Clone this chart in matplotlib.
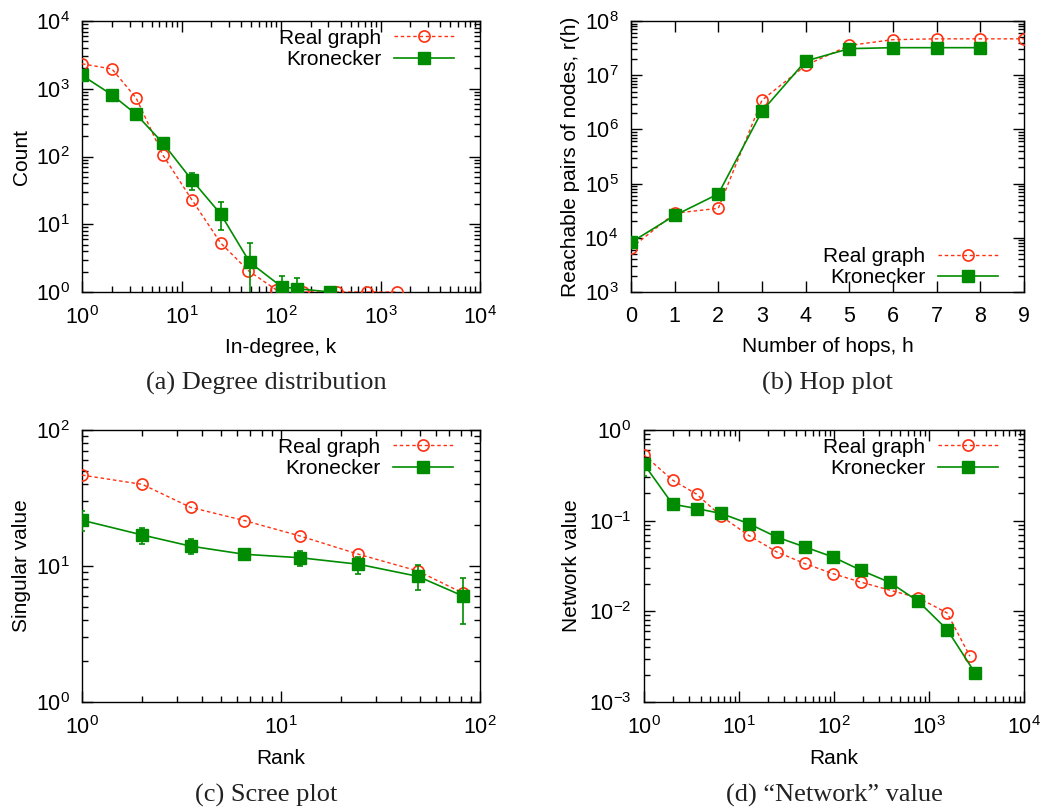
import numpy as np
import matplotlib
matplotlib.use('Agg')
import matplotlib.pyplot as plt
from matplotlib.lines import Line2D
from matplotlib.ticker import LogLocator, NullLocator, FixedLocator

plt.rcParams['font.family'] = ['Liberation Sans', 'DejaVu Sans']
plt.rcParams['mathtext.fontset'] = 'custom'
plt.rcParams['mathtext.rm'] = 'Liberation Sans'
plt.rcParams['font.size'] = 15

RED = '#ff3010'
GREEN = '#008c00'

# (a) degree distribution
deg_real_x = [1, 2, 3.5, 6.5, 12.7, 24.7, 47, 89, 168, 363, 725, 1450]
deg_real_y = [2340, 1960, 730, 105, 23, 5.3, 2.06, 1.08, 1.0, 1.0, 1.0, 1.0]
deg_kron_x = [1, 2, 3.5, 6.5, 12.7, 24.7, 48.6, 101.6, 144, 311]
deg_kron_y = [1580, 815, 420, 158, 45, 14.2, 2.73, 1.19, 1.12, 1.0]
deg_kron_lo = [1580, 815, 420, 158, 32, 8.2, 0.5, 1.0, 1.0, 1.0]
deg_kron_hi = [1580, 815, 420, 158, 57, 21, 5.2, 1.74, 1.6, 1.0]

# (b) hop plot
hop_real_x = [0, 1, 2, 3, 4, 5, 6, 7, 8, 9]
hop_real_y = [6450, 28400, 35000, 3.47e6, 1.52e7, 3.56e7, 4.54e7, 4.7e7, 4.7e7, 4.7e7]
hop_kron_x = [0, 1, 2, 3, 4, 5, 6, 7, 8]
hop_kron_y = [8200, 25800, 64500, 2.17e6, 1.83e7, 3.1e7, 3.23e7, 3.23e7, 3.23e7]
hop_kron_lo = [8200, 25800, 64500, 2.17e6, 1.83e7, 2.5e7, 2.6e7, 2.6e7, 2.7e7]
hop_kron_hi = [8200, 25800, 64500, 2.17e6, 1.83e7, 3.7e7, 3.8e7, 3.8e7, 3.8e7]

# (c) scree plot
scree_x = [1, 2.01, 3.51, 6.53, 12.5, 24.5, 48.6, 82.5]
scree_real = [46.6, 39.8, 27, 21.6, 16.6, 12.2, 9.2, 6.3]
scree_kron = [21.7, 16.9, 14.0, 12.2, 11.5, 10.3, 8.4, 6.0]
scree_kron_lo = [18.2, 14.6, 12.2, 11.2, 10.0, 8.7, 6.7, 3.73]
scree_kron_hi = [25.3, 18.9, 15.7, 13.2, 12.9, 11.7, 10.1, 8.2]

# (d) network value
net_real_x = [1, 2.0, 3.58, 6.5, 12.6, 24.9, 49, 96.8, 192, 389, 772, 1552, 2700]
net_real_y = [0.53, 0.28, 0.196, 0.112, 0.069, 0.0453, 0.0337, 0.0261, 0.021,
              0.0171, 0.0141, 0.0096, 0.0032]
net_kron_x = [1, 2.0, 3.58, 6.5, 12.6, 24.9, 49, 96.8, 192, 389, 772, 1552, 3050]
net_kron_y = [0.42, 0.152, 0.136, 0.12, 0.093, 0.066, 0.0514, 0.0399, 0.0284,
              0.0208, 0.0129, 0.0063, 0.0021]
net_kron_lo = [0.31, 0.13, 0.136, 0.12, 0.093, 0.066, 0.0514, 0.0399, 0.0284,
               0.0208, 0.0129, 0.0063, 0.0021]
net_kron_hi = [0.48, 0.168, 0.136, 0.12, 0.093, 0.066, 0.0514, 0.0399, 0.0284,
               0.0208, 0.0129, 0.0063, 0.0021]


def draw(ax, rx, ry, kx, ky, klo, khi, legend_loc, anchor):
    real_style = dict(color=RED, linestyle=(0, (2.5, 2)), linewidth=1.0,
                      marker='o', markersize=8, markerfacecolor='none',
                      markeredgecolor=RED, markeredgewidth=1.2)
    kron_style = dict(color=GREEN, linewidth=1.2, marker='s', markersize=8,
                      markerfacecolor=GREEN, markeredgecolor=GREEN)
    ax.plot(rx, ry, zorder=3, **real_style)
    ky = np.array(ky)
    yerr = [ky - np.array(klo), np.array(khi) - ky]
    ax.errorbar(kx, ky, yerr=yerr, elinewidth=1.2, capsize=2.5,
                capthick=1.2, zorder=4, **kron_style)
    # legend samples without the error bars
    handles = [Line2D([], [], **real_style), Line2D([], [], **kron_style)]
    ax.legend(handles, ['Real graph', 'Kronecker'], loc=legend_loc,
              bbox_to_anchor=anchor, frameon=False, markerfirst=False,
              handlelength=2.9, handletextpad=0.6, labelspacing=0.12,
              borderaxespad=0, borderpad=0, fontsize=15)
    ax.tick_params(which='both', direction='in', top=True, right=True,
                   width=1.0, labelsize=15.5)
    ax.tick_params(which='major', length=8)
    ax.tick_params(axis='x', which='major', pad=10)
    ax.tick_params(axis='y', which='major', pad=9)
    ax.tick_params(which='minor', length=4)
    for s in ax.spines.values():
        s.set_linewidth(1.0)


def log_ticks(axis):
    axis.set_major_locator(LogLocator(base=10, numticks=20))
    axis.set_minor_locator(LogLocator(base=10, subs=np.arange(2, 10),
                                      numticks=100))


fig = plt.figure(figsize=(10.49, 8.11), dpi=100)

ax_a = fig.add_axes([0.0782, 0.640, 0.3794, 0.334])
ax_b = fig.add_axes([0.6015, 0.640, 0.3746, 0.334])
ax_c = fig.add_axes([0.0782, 0.1344, 0.3794, 0.3354])
ax_d = fig.add_axes([0.6139, 0.1344, 0.3622, 0.3354])

# (a)
draw(ax_a, deg_real_x, deg_real_y, deg_kron_x, deg_kron_y,
     deg_kron_lo, deg_kron_hi, 'upper right', (0.935, 0.972))
ax_a.set_xscale('log')
ax_a.set_yscale('log')
ax_a.set_xlim(1, 1e4)
ax_a.set_ylim(1, 1e4)
log_ticks(ax_a.xaxis)
log_ticks(ax_a.yaxis)
ax_a.set_xlabel('In-degree, k', labelpad=7)
ax_a.set_ylabel('Count', labelpad=3)

# (b)
draw(ax_b, hop_real_x, hop_real_y, hop_kron_x, hop_kron_y,
     hop_kron_lo, hop_kron_hi, 'lower right', (0.934, 0.017))
ax_b.set_yscale('log')
ax_b.set_xlim(0, 9)
ax_b.set_ylim(1e3, 1e8)
ax_b.xaxis.set_major_locator(FixedLocator(range(10)))
ax_b.xaxis.set_minor_locator(NullLocator())
log_ticks(ax_b.yaxis)
ax_b.set_xlabel('Number of hops, h', labelpad=7)
ax_b.set_ylabel('Reachable pairs of nodes, r(h)', labelpad=3)

# (c)
draw(ax_c, scree_x, scree_real, scree_x, scree_kron,
     scree_kron_lo, scree_kron_hi, 'upper right', (0.932, 0.972))
ax_c.set_xscale('log')
ax_c.set_yscale('log')
ax_c.set_xlim(1, 100)
ax_c.set_ylim(1, 100)
log_ticks(ax_c.xaxis)
log_ticks(ax_c.yaxis)
ax_c.set_xlabel('Rank', labelpad=7)
ax_c.set_ylabel('Singular value', labelpad=3)

# (d)
draw(ax_d, net_real_x, net_real_y, net_kron_x, net_kron_y,
     net_kron_lo, net_kron_hi, 'upper right', (0.932, 0.972))
ax_d.set_xscale('log')
ax_d.set_yscale('log')
ax_d.set_xlim(1, 1e4)
ax_d.set_ylim(1e-3, 1)
log_ticks(ax_d.xaxis)
log_ticks(ax_d.yaxis)
ax_d.set_xlabel('Rank', labelpad=7)
ax_d.set_ylabel('Network value', labelpad=6)

cap = dict(ha='center', va='center', fontsize=19,
           family=['Liberation Serif', 'DejaVu Serif'], color='#222222')
fig.text(0.2535, 1 - 383 / 811, '(a) Degree distribution', **cap)
fig.text(0.789, 1 - 383 / 811, '(b) Hop plot', **cap)
fig.text(0.2535, 1 - 795 / 811, '(c) Scree plot', **cap)
fig.text(0.795, 1 - 795 / 811, '(d) \u201cNetwork\u201d value', **cap)

fig.savefig('out.png', dpi=100)
